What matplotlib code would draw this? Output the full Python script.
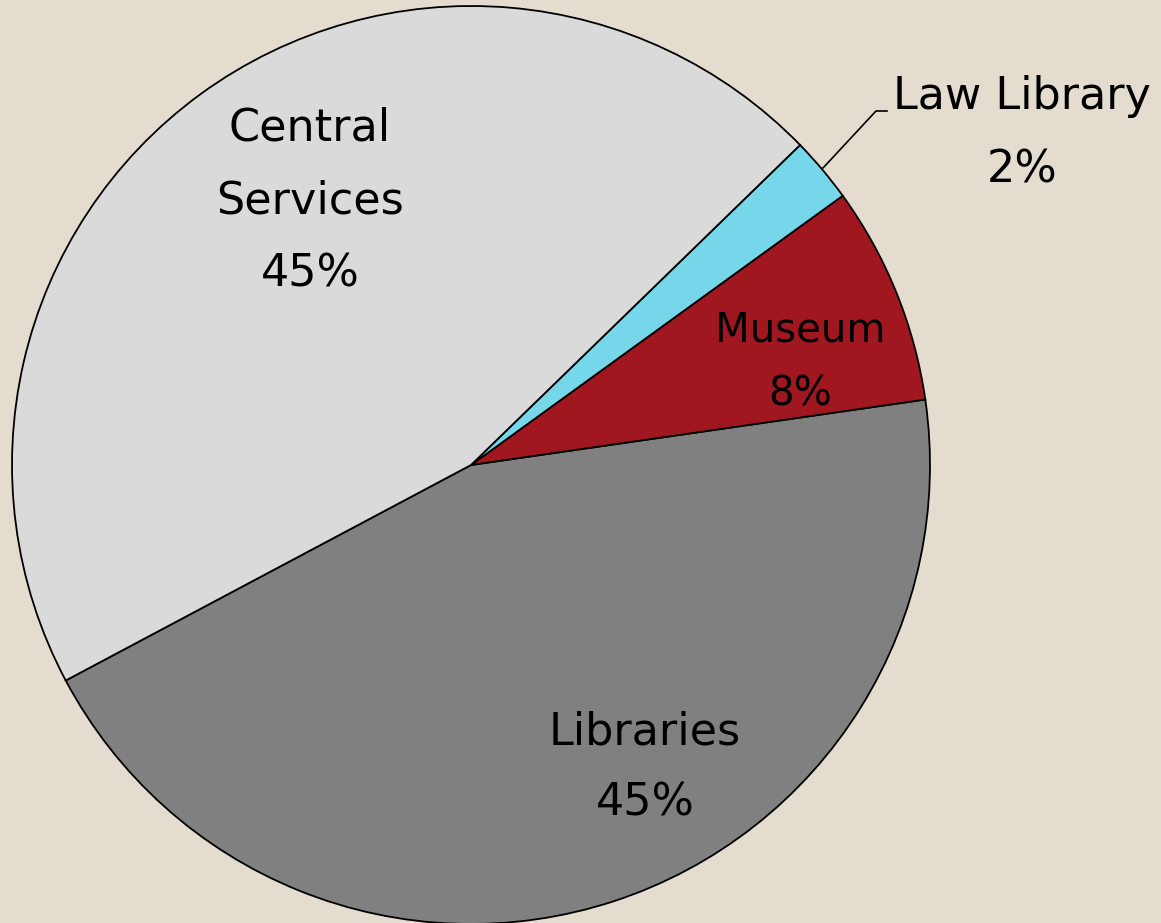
import matplotlib.pyplot as plt

# slice data (counter-clockwise from the Central/Libraries boundary)
categories = ['Libraries', 'Museum', 'Law Library', 'Central\nServices']
shares = [44.5, 7.7, 2.3, 45.5]
pct_labels = ['45%', '8%', '2%', '45%']
colors = ['#808080', '#a0171f', '#77d7ea', '#dadada']

W, H = 1161, 923
fig = plt.figure(figsize=(W / 100, H / 100), dpi=100)
fig.patch.set_facecolor('#e4dccf')
ax = fig.add_axes([0, 0, 1, 1])

cx, cy, r = 471, H - 465, 459
ax.pie(shares, colors=colors, startangle=208.0, counterclock=True,
       center=(cx, cy), radius=r, frame=True,
       wedgeprops=dict(edgecolor='black', linewidth=1.3))
ax.set_xlim(0, W)
ax.set_ylim(0, H)
ax.set_aspect('equal')
ax.axis('off')

# label lines: x centre, first row (pixels from top), row step
def label(x, y0, step, name, pct, size=32):
    lines = name.split('\n') + [pct]
    for i, s in enumerate(lines):
        ax.text(x, H - (y0 + i * step), s, ha='center', va='center',
                fontsize=size, family='DejaVu Sans')

label(310, 128, 73, categories[3], pct_labels[3])
label(645, 732, 71, categories[0], pct_labels[0])
label(800, 330, 65, categories[1], pct_labels[1], size=29)
label(1022, 97, 73, categories[2], pct_labels[2])

# leader line for the small slice
ax.plot([823, 876, 887], [H - 168, H - 111, H - 111], color='black', linewidth=1.2)

fig.savefig('out.png', dpi=100, facecolor=fig.get_facecolor())
